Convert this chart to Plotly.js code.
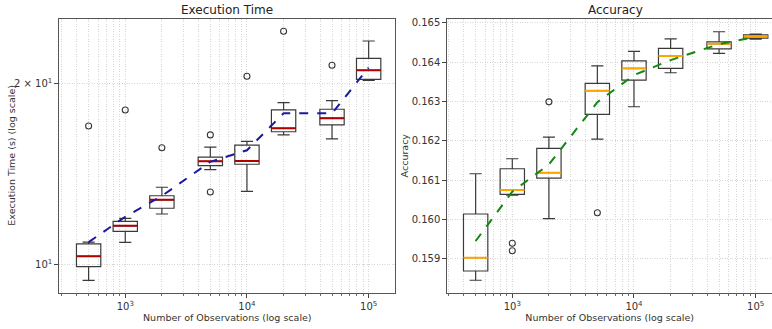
<!DOCTYPE html>
<html>
<head>
<meta charset="utf-8">
<script src="https://cdn.plot.ly/plotly-3.0.1.min.js"></script>
<style>html,body{margin:0;padding:0;background:#fff}#chart{width:772px;height:329px}</style>
</head>
<body>
<div id="chart"></div>
<script>
// ---- data ----
var positions = [500, 1000, 2000, 5000, 10000, 20000, 50000, 100000];

var timeLo   = [9.40, 10.88, 12.13, 14.38, 13.23, 16.43, 16.18, 20.26];
var timeQ1   = [9.91, 11.35, 12.40, 14.60, 14.68, 16.63, 17.07, 20.34];
var timeMed  = [10.31, 11.59, 12.81, 14.85, 14.86, 16.85, 17.52, 21.05];
var timeQ3   = [10.82, 11.79, 13.01, 15.09, 15.80, 18.08, 18.13, 22.04];
var timeHi   = [10.89, 11.93, 13.44, 15.68, 16.03, 18.59, 18.74, 23.56];
var timeMean = [10.89, 12.00, 13.00, 14.82, 15.49, 17.85, 17.85, 21.27];
var timeOutX = [500, 1000, 2000, 5000, 5000, 10000, 20000, 50000];
var timeOutY = [17.0, 18.08, 15.64, 16.43, 13.20, 20.58, 24.45, 21.47];

var accLo   = [0.15846, 0.16062, 0.160023, 0.162046, 0.162866, 0.16373, 0.16422, 0.16458];
var accQ1   = [0.158695, 0.160641, 0.161056, 0.162672, 0.163543, 0.16384, 0.164337, 0.16461];
var accMed  = [0.159033, 0.160751, 0.16119, 0.163272, 0.16384, 0.164152, 0.164464, 0.16465];
var accQ3   = [0.160142, 0.161292, 0.16181, 0.163459, 0.164033, 0.164348, 0.164515, 0.16469];
var accHi   = [0.161165, 0.161546, 0.162096, 0.163906, 0.16427, 0.16459, 0.16477, 0.16471];
var accMean = [0.159457, 0.160708, 0.1614, 0.16298, 0.16367, 0.16405, 0.164457, 0.16464];
var accOutX = [1000, 1000, 2000, 5000];
var accOutY = [0.1594, 0.15921, 0.16299, 0.160175];

var xTickVals = [1000, 10000, 100000];
var xTickText = ['10<sup>3</sup>', '10<sup>4</sup>', '10<sup>5</sup>'];
var timeTickVals = [10, 20];
var timeTickText = ['10<sup>1</sup>', '2 × 10<sup>1</sup>'];
var accTickVals = [0.159, 0.160, 0.161, 0.162, 0.163, 0.164, 0.165];
var accTickText = ['0.159', '0.160', '0.161', '0.162', '0.163', '0.164', '0.165'];

// minor tick positions (2..9 x 10^n)
var minorVals = [];
for (var e = 2; e <= 5; e++) for (var m = 2; m <= 9; m++) minorVals.push(m * Math.pow(10, e));

var FONT = 'DejaVu Sans, sans-serif';
var BOXW = 0.2;

function boxTrace(xa, ya, lo, q1, med, q3, hi, color, lw, whisk) {
  return {
    type: 'box', xaxis: xa, yaxis: ya, x: positions,
    lowerfence: lo, q1: q1, median: med, q3: q3, upperfence: hi,
    width: BOXW, whiskerwidth: whisk, boxpoints: false,
    line: {color: color, width: lw}, fillcolor: 'rgba(0,0,0,0)',
    hoverinfo: 'skip', showlegend: false
  };
}

var traces = [
  boxTrace('x', 'y', timeLo, timeQ1, timeMed, timeQ3, timeHi, '#3a3a3a', 1.2, 0.5),
  boxTrace('x', 'y', timeMed, timeMed, timeMed, timeMed, timeMed, '#b00000', 2, 0),
  {type: 'scatter', mode: 'markers', xaxis: 'x', yaxis: 'y', x: timeOutX, y: timeOutY,
   marker: {symbol: 'circle-open', size: 6, color: '#3a3a3a', line: {width: 1.1}}, hoverinfo: 'skip', showlegend: false},
  {type: 'scatter', mode: 'lines', xaxis: 'x', yaxis: 'y', x: positions, y: timeMean,
   line: {color: '#1a1aa0', width: 2, dash: 'dash'}, hoverinfo: 'skip', showlegend: false},

  boxTrace('x2', 'y2', accLo, accQ1, accMed, accQ3, accHi, '#3a3a3a', 1.2, 0.5),
  boxTrace('x2', 'y2', accMed, accMed, accMed, accMed, accMed, '#ffa500', 2, 0),
  {type: 'scatter', mode: 'markers', xaxis: 'x2', yaxis: 'y2', x: accOutX, y: accOutY,
   marker: {symbol: 'circle-open', size: 6, color: '#3a3a3a', line: {width: 1.1}}, hoverinfo: 'skip', showlegend: false},
  {type: 'scatter', mode: 'lines', xaxis: 'x2', yaxis: 'y2', x: positions, y: accMean,
   line: {color: '#118811', width: 2, dash: 'dash'}, hoverinfo: 'skip', showlegend: false}
];

var gridCol = '#d6d6d6';
var gridDash = '1px,1.5px';
function xAxis(domain, range, anchor) {
  return {
    type: 'log', domain: domain, range: range, anchor: anchor,
    tickmode: 'array', tickvals: xTickVals, ticktext: xTickText,
    ticks: 'outside', ticklen: 4, tickwidth: 1, tickcolor: '#444',
    showline: true, mirror: true, linecolor: '#555', linewidth: 1,
    showgrid: true, gridcolor: gridCol, griddash: gridDash, gridwidth: 1,
    minor: {tickmode: 'array', tickvals: minorVals, ticks: 'outside', ticklen: 2, tickcolor: '#666',
            showgrid: true, gridcolor: gridCol, griddash: gridDash, gridwidth: 1},
    zeroline: false, tickfont: {family: FONT, size: 10, color: '#333'},
    title: {text: 'Number of Observations (log scale)', font: {family: FONT, size: 9.5, color: '#333'}, standoff: 2},
    automargin: false, fixedrange: true
  };
}

function yAxisBase() {
  return {
    domain: [(329 - 292.7) / 329, (329 - 18.7) / 329],
    tickmode: 'array', ticks: 'outside', ticklen: 4, tickcolor: '#444',
    showline: true, mirror: true, linecolor: '#555', linewidth: 1,
    showgrid: true, gridcolor: gridCol, griddash: gridDash,
    zeroline: false, tickfont: {family: FONT, size: 10, color: '#333'},
    automargin: false, fixedrange: true
  };
}

var yaxis1 = yAxisBase();
yaxis1.type = 'log';
yaxis1.range = [0.9527, 1.4093];
yaxis1.tickvals = timeTickVals;
yaxis1.ticktext = timeTickText;
yaxis1.anchor = 'x';

var yaxis2 = yAxisBase();
yaxis2.range = [0.158144, 0.165102];
yaxis2.tickvals = accTickVals;
yaxis2.ticktext = accTickText;
yaxis2.anchor = 'x2';
yaxis2.title = {text: 'Accuracy', font: {family: FONT, size: 9.5, color: '#333'}, standoff: 1};

var layout = {
  width: 772, height: 329,
  margin: {l: 0, r: 0, t: 0, b: 0},
  paper_bgcolor: '#fff', plot_bgcolor: '#fff',
  showlegend: false, boxmode: 'overlay',
  xaxis: xAxis([59.3 / 772, 395.3 / 772], [2.458, 5.219], 'y'),
  xaxis2: xAxis([447.3 / 772, 1], [2.466, 5.134], 'y2'),
  yaxis: yaxis1,
  yaxis2: yaxis2,
  annotations: [
    {text: 'Execution Time', xref: 'paper', yref: 'paper', x: 227.3 / 772, y: (329 - 10) / 329,
     showarrow: false, xanchor: 'center', yanchor: 'middle', font: {family: FONT, size: 12, color: '#222'}},
    {text: 'Accuracy', xref: 'paper', yref: 'paper', x: 615 / 772, y: (329 - 10) / 329,
     showarrow: false, xanchor: 'center', yanchor: 'middle', font: {family: FONT, size: 12, color: '#222'}},
    {text: 'Execution Time (s) (log scale)', xref: 'paper', yref: 'paper', x: 12 / 772,
     y: (329 - (18.7 + 292.7) / 2) / 329, textangle: -90,
     showarrow: false, xanchor: 'center', yanchor: 'middle', font: {family: FONT, size: 9.5, color: '#333'}}
  ]
};

Plotly.newPlot('chart', traces, layout, {staticPlot: true, displayModeBar: false});
</script>
</body>
</html>
